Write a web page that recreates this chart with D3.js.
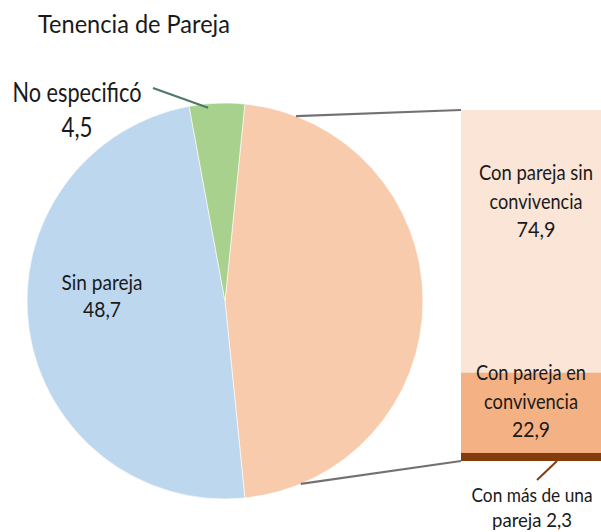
<!DOCTYPE html>
<html>
<head>
<meta charset="utf-8">
<script src="https://cdn.jsdelivr.net/npm/d3@7"></script>
<style>
  html, body { margin: 0; padding: 0; background: #fff; }
  svg { display: block; }
  text { font-family: Lato, "Open Sans", sans-serif; fill: #1a1a1a; }
</style>
</head>
<body>
<svg id="chart" width="601" height="532"></svg>
<script>
// Pie slices (percent of total)
const pieCategories = ["Con pareja", "Sin pareja", "No especificó"];
const pieValues = [46.8, 48.7, 4.5];
const pieColors = ["#f8cbad", "#bdd7ee", "#a9d18e"];

// Breakdown of "Con pareja" (percent, top to bottom)
const barCategories = ["Con pareja sin convivencia", "Con pareja en convivencia", "Con más de una pareja"];
const barValues = [74.9, 22.9, 2.3];
const barColors = ["#fbe5d6", "#f4b183", "#843c0c"];

const fmt = v => String(v).replace(".", ",");

const svg = d3.select("#chart");

// Draws centred lines of text, each squeezed to a given width (narrow face)
function label(x, yBase, lines, size, lh) {
  const t = svg.append("text").attr("text-anchor", "middle").style("font-size", size + "px");
  lines.forEach(([s, w], k) => t.append("tspan")
    .attr("x", x).attr("y", yBase + k * lh)
    .attr("textLength", w).attr("lengthAdjust", "spacingAndGlyphs")
    .text(s));
  return t;
}

// Title
svg.append("text")
  .attr("x", 38).attr("y", 33)
  .style("font-size", "25px")
  .attr("textLength", 192).attr("lengthAdjust", "spacingAndGlyphs")
  .text("Tenencia de Pareja");

// ----- Pie -----
const cx = 225, cy = 301, R = 198;
const toRad = d => d * Math.PI / 180;
// the "Con pareja" slice is centred on the right side, facing the bar
const firstSpan = pieValues[0] / d3.sum(pieValues) * 360;
const startDeg = 90 - firstSpan / 2;

const pie = d3.pie().sort(null).value(d => d)
  .startAngle(toRad(startDeg)).endAngle(toRad(startDeg + 360));
const arcs = pie(pieValues);
const arc = d3.arc().innerRadius(0).outerRadius(R);

const g = svg.append("g").attr("transform", `translate(${cx},${cy})`);
g.selectAll("path.slice").data(arcs).join("path")
  .attr("class", "slice")
  .attr("d", arc)
  .attr("fill", (d, i) => pieColors[i])
  .attr("stroke", "#ffffff").attr("stroke-width", 0.6);

const polar = (deg, r) => [Math.sin(toRad(deg)) * r, -Math.cos(toRad(deg)) * r];

// ----- Stacked bar -----
const barX = 461, barW = 141, barTop = 110, barBottom = 461;
const y = d3.scaleLinear().domain([0, d3.sum(barValues)]).range([barTop, barBottom]);
let acc = 0;
const stack = barValues.map((v, i) => {
  const s = { i, y0: acc, y1: acc + v, v };
  acc += v;
  return s;
});
svg.selectAll("rect.seg").data(stack).join("rect")
  .attr("class", "seg")
  .attr("x", barX).attr("width", barW)
  .attr("y", d => y(d.y0))
  .attr("height", d => y(d.y1) - y(d.y0))
  .attr("fill", d => barColors[d.i]);

// Connector lines from the pie to the bar corners
const topStart = polar(21, R), botStart = polar(157.5, R);
svg.append("line")
  .attr("x1", cx + topStart[0]).attr("y1", cy + topStart[1])
  .attr("x2", barX).attr("y2", y(0))
  .attr("stroke", "#767171").attr("stroke-width", 2.2);
svg.append("line")
  .attr("x1", cx + botStart[0]).attr("y1", cy + botStart[1])
  .attr("x2", barX).attr("y2", y(d3.sum(barValues)))
  .attr("stroke", "#767171").attr("stroke-width", 2.2);

// ----- Labels -----
// Sin pareja (inside its slice)
label(cx - 123, cy - 11, [["Sin pareja", 81], [fmt(pieValues[1]), 38]], 21, 27);

// No especificó (outside, with leader line into the slice)
label(77, 102, [["No especificó", 129], [fmt(pieValues[2]), 31]], 27, 35);
const gp = polar(-5, R - 4);
svg.append("line")
  .attr("x1", 153).attr("y1", 88)
  .attr("x2", cx + gp[0]).attr("y2", cy + gp[1])
  .attr("stroke", "#4e7a66").attr("stroke-width", 2.2);

// Bar segment labels
const barMid = barX + 70;
label(barMid + 5, 180, [["Con pareja sin", 114], ["convivencia", 93], [fmt(barValues[0]), 39]], 21, 28.5);
label(barMid, 380, [["Con pareja en", 110], ["convivencia", 94], [fmt(barValues[1]), 38]], 21, 28.5);
label(barMid + 1, 502, [["Con más de una", 121], ["pareja " + fmt(barValues[2]), 80]], 20, 25);
svg.append("line")
  .attr("x1", barMid + 26).attr("y1", y(d3.sum(barValues)))
  .attr("x2", barMid + 6).attr("y2", 480)
  .attr("stroke", "#843c0c").attr("stroke-width", 2);
</script>
</body>
</html>
